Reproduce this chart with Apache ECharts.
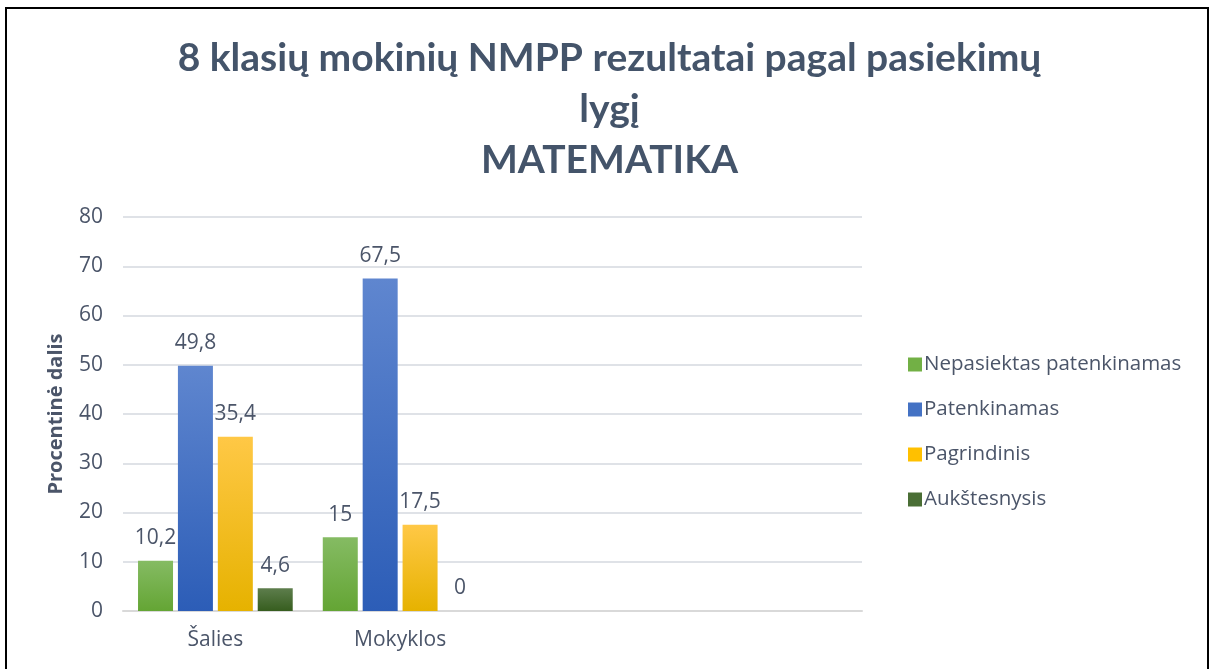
<!DOCTYPE html>
<html>
<head>
<meta charset="utf-8">
<script src="https://cdn.jsdelivr.net/npm/echarts@6/dist/echarts.min.js"></script>
<style>
html,body{margin:0;padding:0;background:#fff;overflow:hidden;}
#frame{position:absolute;left:5px;top:7px;width:1204px;height:720px;border:2px solid #000;border-bottom:none;box-sizing:border-box;}
#chart{position:absolute;left:0;top:0;width:1219px;height:669px;}
</style>
</head>
<body>
<div id="chart"></div>
<div id="frame"></div>
<script>
var categories = ["Šalies", "Mokyklos", "", ""];
var seriesNames = ["Nepasiektas patenkinamas", "Patenkinamas", "Pagrindinis", "Aukštesnysis"];
var nepasiektas = [10.2, 15];
var patenkinamas = [49.8, 67.5];
var pagrindinis = [35.4, 17.5];
var aukstesnysis = [4.6, 0];
var yTicks = [0, 10, 20, 30, 40, 50, 60, 70, 80];

var textColor = '#4b5569';
function grad(top, bottom) {
  return new echarts.graphic.LinearGradient(0, 0, 0, 1, [
    {offset: 0, color: top}, {offset: 1, color: bottom}
  ]);
}
var colors = [
  grad('#85bb63', '#64a534'),
  grad('#5f86cf', '#2c5db7'),
  grad('#ffc846', '#e6b200'),
  grad('#5d7d4c', '#365d1e')
];
var legendColors = ['#72b045', '#4472c4', '#ffc000', '#4a6e35'];
var dataSets = [nepasiektas, patenkinamas, pagrindinis, aukstesnysis];

var chart = echarts.init(document.getElementById('chart'), null, {renderer: 'canvas'});
var series = dataSets.map(function (d, i) {
  return {
    name: seriesNames[i],
    type: 'bar',
    data: d,
    barWidth: 35,
    barGap: '14%',
    itemStyle: {color: colors[i]},
    label: {
      show: true,
      position: 'top',
      distance: 12,
      color: textColor,
      fontSize: 21,
      fontFamily: 'Open Sans',
      formatter: function (p) { return String(p.value).replace('.', ','); }
    }
  };
});

chart.setOption({
  animation: false,
  title: {
    text: '8 klasių mokinių NMPP rezultatai pagal pasiekimų\nlygį\nMATEMATIKA',
    left: 'center',
    top: 28,
    textStyle: {
      fontFamily: 'Lato',
      fontWeight: 'bold',
      fontSize: 39,
      lineHeight: 51,
      color: '#44546a'
    }
  },
  legend: {
    orient: 'vertical',
    left: 903,
    top: 349,
    itemWidth: 14,
    itemHeight: 14,
    itemGap: 24,
    icon: 'rect',
    data: seriesNames.map(function (n, i) {
      return {name: n, itemStyle: {color: legendColors[i]}};
    }),
    textStyle: {color: textColor, fontSize: 20.5, fontFamily: 'Open Sans', padding: [0, 0, 0, -3]}
  },
  grid: {left: 123, right: 357, top: 217, bottom: 58, containLabel: false},
  xAxis: {
    type: 'category',
    data: categories,
    axisLine: {lineStyle: {color: '#d9d9d9', width: 2}},
    axisTick: {show: false},
    axisLabel: {color: textColor, fontSize: 21, fontFamily: 'Open Sans', margin: 19}
  },
  yAxis: {
    type: 'value',
    min: yTicks[0],
    max: yTicks[yTicks.length - 1],
    interval: 10,
    name: 'Procentinė dalis',
    nameLocation: 'middle',
    nameGap: 57,
    nameTextStyle: {color: textColor, fontSize: 20, fontWeight: 'bold', fontFamily: 'Open Sans'},
    axisLine: {show: false},
    axisTick: {show: false},
    axisLabel: {color: textColor, fontSize: 21, fontFamily: 'Open Sans', margin: 20},
    splitLine: {lineStyle: {color: '#dfe2e7', width: 2}}
  },
  series: series
});
</script>
</body>
</html>
